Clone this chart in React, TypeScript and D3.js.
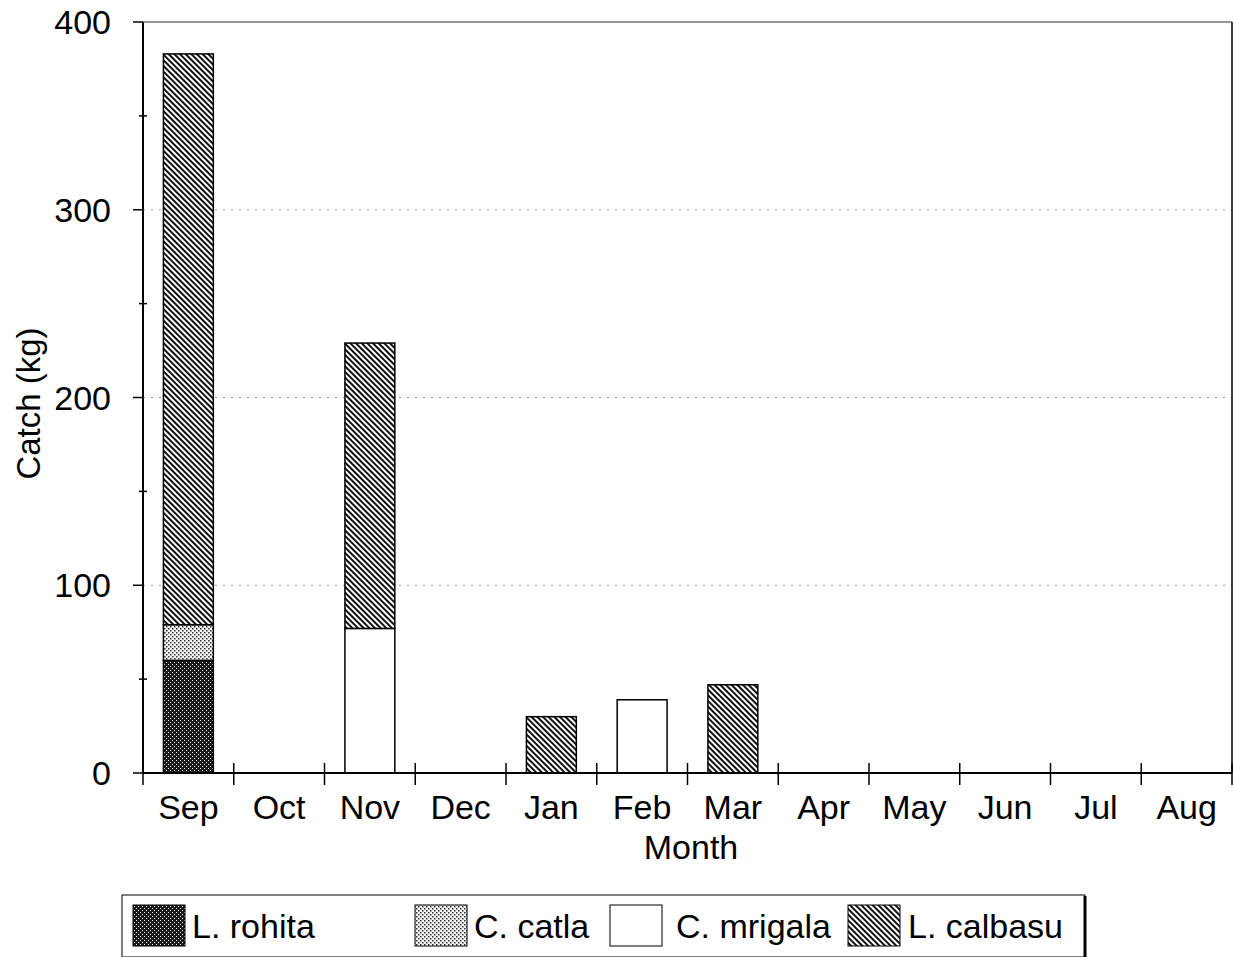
import React, { useRef, useEffect } from 'react';
import * as d3 from 'd3';

const MONTHS = ['Sep', 'Oct', 'Nov', 'Dec', 'Jan', 'Feb', 'Mar', 'Apr', 'May', 'Jun', 'Jul', 'Aug'];
const ROHITA = [60, 0, 0, 0, 0, 0, 0, 0, 0, 0, 0, 0];
const CATLA = [19, 0, 0, 0, 0, 0, 0, 0, 0, 0, 0, 0];
const MRIGALA = [0, 0, 77, 0, 0, 39, 0, 0, 0, 0, 0, 0];
const CALBASU = [304, 0, 152, 0, 30, 0, 47, 0, 0, 0, 0, 0];
const SPECIES = ['L. rohita', 'C. catla', 'C. mrigala', 'L. calbasu'];
const Y_TICKS = [0, 100, 200, 300, 400];

const FILLS: Record<string, string> = {
  'L. rohita': 'url(#pat-rohita)',
  'C. catla': 'url(#pat-catla)',
  'C. mrigala': '#fff',
  'L. calbasu': 'url(#pat-calbasu)',
};

const FONT = '"Liberation Sans", Arial, sans-serif';

export default function App() {
  const ref = useRef<SVGSVGElement | null>(null);

  useEffect(() => {
    const svg = d3.select(ref.current);
    svg.selectAll('*').remove();

    const W = 1234;
    const H = 957;
    const left = 143, right = 1232, top = 22, bottom = 773;

    // patterns
    const defs = svg.append('defs');
    const pr = defs.append('pattern').attr('id', 'pat-rohita')
      .attr('patternUnits', 'userSpaceOnUse').attr('width', 4).attr('height', 4);
    pr.append('rect').attr('width', 4).attr('height', 4).attr('fill', '#1a1a1a');
    pr.append('rect').attr('x', 0).attr('y', 0).attr('width', 1).attr('height', 1).attr('fill', '#eee');
    pr.append('rect').attr('x', 2).attr('y', 2).attr('width', 1).attr('height', 1).attr('fill', '#eee');

    const pc = defs.append('pattern').attr('id', 'pat-catla')
      .attr('patternUnits', 'userSpaceOnUse').attr('width', 4).attr('height', 4);
    pc.append('rect').attr('width', 4).attr('height', 4).attr('fill', '#f4f4f4');
    pc.append('rect').attr('x', 0).attr('y', 0).attr('width', 1.5).attr('height', 1.5).attr('fill', '#333');
    pc.append('rect').attr('x', 2).attr('y', 2).attr('width', 1.5).attr('height', 1.5).attr('fill', '#333');

    const ph = defs.append('pattern').attr('id', 'pat-calbasu')
      .attr('patternUnits', 'userSpaceOnUse').attr('width', 4).attr('height', 4)
      .attr('patternTransform', 'rotate(-45)');
    ph.append('rect').attr('width', 4).attr('height', 4).attr('fill', '#fff');
    ph.append('rect').attr('width', 2).attr('height', 4).attr('fill', '#111');

    const x = d3.scaleBand<string>()
      .domain(MONTHS)
      .range([left, right])
      .paddingInner(0.45)
      .paddingOuter(0.225);
    const step = x.step();

    const y = d3.scaleLinear().domain([0, 400]).range([bottom, top]);

    // grid lines
    svg.append('g')
      .selectAll('line')
      .data([100, 200, 300])
      .join('line')
      .attr('x1', left).attr('x2', right)
      .attr('y1', d => y(d)).attr('y2', d => y(d))
      .attr('stroke', '#999').attr('stroke-width', 1)
      .attr('stroke-dasharray', '2,6');

    // frame top / right
    svg.append('line').attr('x1', left).attr('x2', right)
      .attr('y1', y(400)).attr('y2', y(400))
      .attr('stroke', '#777').attr('stroke-width', 1.5);
    svg.append('line').attr('x1', right).attr('x2', right)
      .attr('y1', y(400)).attr('y2', bottom)
      .attr('stroke', '#000').attr('stroke-width', 1.5);

    // stacked bars
    const stackData = MONTHS.map((m, i) => ({
      month: m,
      'L. rohita': ROHITA[i],
      'C. catla': CATLA[i],
      'C. mrigala': MRIGALA[i],
      'L. calbasu': CALBASU[i],
    }));
    const series = d3.stack<any>().keys(SPECIES)(stackData);

    svg.append('g')
      .selectAll('g')
      .data(series)
      .join('g')
      .attr('fill', d => FILLS[d.key])
      .selectAll('rect')
      .data(d => d.filter(p => p[1] - p[0] > 0))
      .join('rect')
      .attr('x', d => x(d.data.month)!)
      .attr('y', d => y(d[1]))
      .attr('width', x.bandwidth())
      .attr('height', d => y(d[0]) - y(d[1]))
      .attr('stroke', '#000')
      .attr('stroke-width', 1.5);

    // y axis
    svg.append('line').attr('x1', left).attr('x2', left)
      .attr('y1', top).attr('y2', bottom)
      .attr('stroke', '#000').attr('stroke-width', 2);
    svg.append('g')
      .selectAll('line')
      .data(d3.range(0, 401, 50))
      .join('line')
      .attr('x1', d => d % 100 === 0 ? left - 10 : left - 4)
      .attr('x2', d => d % 100 === 0 ? left : left + 4)
      .attr('y1', d => y(d)).attr('y2', d => y(d))
      .attr('stroke', '#000').attr('stroke-width', 1.5);
    svg.append('g')
      .selectAll('text')
      .data(Y_TICKS)
      .join('text')
      .attr('x', left - 32)
      .attr('y', d => y(d) + 12)
      .attr('text-anchor', 'end')
      .attr('font-family', FONT)
      .attr('font-size', 34)
      .attr('fill', '#000')
      .text(d => d);

    // x axis
    svg.append('line').attr('x1', left).attr('x2', right)
      .attr('y1', bottom).attr('y2', bottom)
      .attr('stroke', '#000').attr('stroke-width', 2);
    svg.append('g')
      .selectAll('line')
      .data(MONTHS.map((m, i) => i).concat([MONTHS.length]))
      .join('line')
      .attr('x1', i => left + i * step).attr('x2', i => left + i * step)
      .attr('y1', bottom - 10).attr('y2', bottom + 12)
      .attr('stroke', '#000').attr('stroke-width', 1.5);
    svg.append('g')
      .selectAll('text')
      .data(MONTHS)
      .join('text')
      .attr('x', d => x(d)! + x.bandwidth() / 2)
      .attr('y', 819)
      .attr('text-anchor', 'middle')
      .attr('font-family', FONT)
      .attr('font-size', 34)
      .attr('fill', '#000')
      .text(d => d);

    // axis titles
    svg.append('text')
      .attr('x', 691).attr('y', 859)
      .attr('text-anchor', 'middle')
      .attr('font-family', FONT).attr('font-size', 34)
      .text('Month');
    svg.append('text')
      .attr('transform', `translate(40,${(top + bottom) / 2 + 6}) rotate(-90)`)
      .attr('text-anchor', 'middle')
      .attr('font-family', FONT).attr('font-size', 33)
      .text('Catch (kg)');

    // legend
    const lg = svg.append('g');
    lg.append('rect').attr('x', 122).attr('y', 895).attr('width', 963).attr('height', 62)
      .attr('fill', '#fff').attr('stroke', '#000').attr('stroke-width', 1);
    lg.append('line').attr('x1', 1085).attr('x2', 1085).attr('y1', 896).attr('y2', H)
      .attr('stroke', '#000').attr('stroke-width', 3);
    const swX = [133, 415, 610, 848];
    const txX = [192, 474, 676, 908];
    SPECIES.forEach((s, i) => {
      lg.append('rect').attr('x', swX[i]).attr('y', 905).attr('width', 52).attr('height', 41)
        .attr('fill', FILLS[s]).attr('stroke', '#000').attr('stroke-width', 1);
      lg.append('text').attr('x', txX[i]).attr('y', 938)
        .attr('font-family', FONT).attr('font-size', 34)
        .text(s);
    });
    svg.attr('width', W).attr('height', H);
  }, []);

  return <svg ref={ref} width={1234} height={957} style={{ position: 'absolute', left: 0, top: 0, background: '#fff' }} />;
}
